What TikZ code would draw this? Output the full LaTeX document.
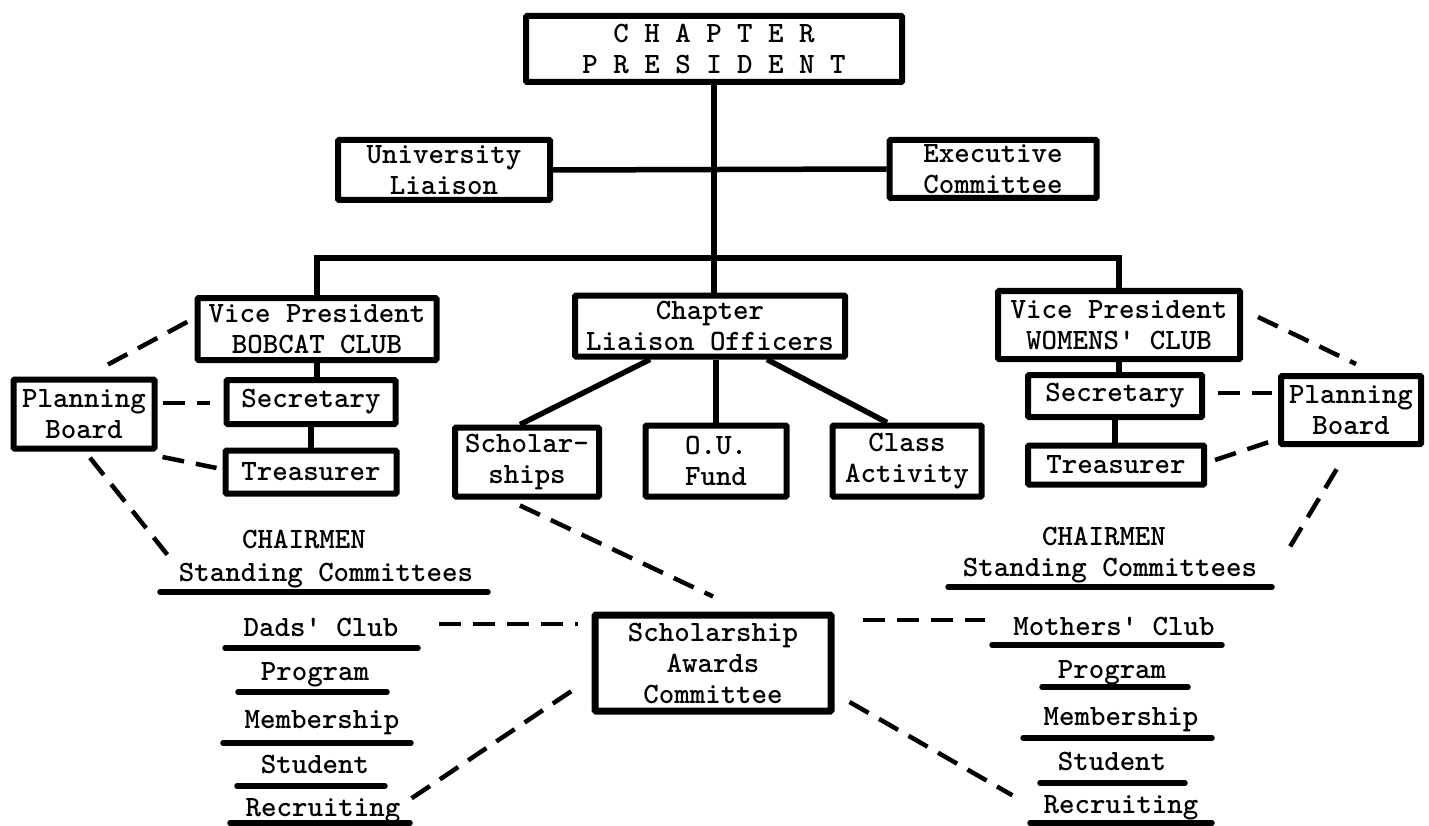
\documentclass[tikz,border=0pt]{standalone}
\usepackage{fontspec}
\newfontfamily\twfam{lmmonolt10-bold.otf}
\newcommand\twfont{\twfam\fontsize{29.5}{31}\selectfont}
\begin{document}
\begin{tikzpicture}[x=1pt,y=-1pt,
  obox/.style={draw, line width=6pt, font=\twfont, align=center, inner sep=0pt, rounded corners=1pt},
  conn/.style={line width=5.5pt},
  dsh/.style={line width=4.5pt, dash pattern=on 22pt off 12pt},
  uline/.style={line width=5.5pt, line cap=round},
  txt/.style={font=\twfont, inner sep=0pt, anchor=base}]
\useasboundingbox (0,0) rectangle (1429,826);
\fill[white] (0,0) rectangle (1429,826);
% boxes
\node[obox, minimum width=376, minimum height=66] (pres) at (714,49) {C H A P T E R\\P R E S I D E N T};
\node[obox, minimum width=212, minimum height=60] (ul) at (444,170) {University\\Liaison};
\node[obox, minimum width=207, minimum height=58] (ec) at (993,169) {Executive\\Committee};
\node[obox, minimum width=239, minimum height=62] (vpb) at (317,329) {Vice President\\BOBCAT CLUB};
\node[obox, minimum width=169, minimum height=44] (secb) at (311,402) {Secretary};
\node[obox, minimum width=171, minimum height=43] (treb) at (311,472) {Treasurer};
\node[obox, minimum width=141, minimum height=69] (pbl) at (84,414) {Planning\\Board};
\node[obox, minimum width=270, minimum height=61] (cl) at (710,326) {Chapter\\Liaison Officers};
\node[obox, minimum width=144, minimum height=69] (sch) at (527,462) {Scholar-\\ships};
\node[obox, minimum width=141, minimum height=71] (ou) at (716,461) {O.U.\\Fund};
\node[obox, minimum width=149, minimum height=71] (ca) at (907,461) {Class\\Activity};
\node[obox, minimum width=242, minimum height=68] (vpw) at (1119,325) {Vice President\\WOMENS' CLUB};
\node[obox, minimum width=174, minimum height=42] (secw) at (1115,396) {Secretary};
\node[obox, minimum width=176, minimum height=39] (trew) at (1116,465) {Treasurer};
\node[obox, minimum width=140, minimum height=68] (pbr) at (1351,410) {Planning\\Board};
\node[obox, line width=7pt, minimum width=236, minimum height=96] (sac) at (713,663) {Scholarship\\Awards\\Committee};
% texts
\node[txt] (chl) at (304,548) {CHAIRMEN};
\node[txt] (stl) at (326,581) {Standing Committees};
\node[txt] (chr) at (1104,545) {CHAIRMEN};
\node[txt] (str) at (1110,576) {Standing Committees};
\node[txt] (dads) at (321,636) {Dads' Club};
\node[txt] (progl) at (315,680) {Program};
\node[txt] (meml) at (322,728) {Membership};
\node[txt] (stul) at (315,773) {Student};
\node[txt] (recl) at (323,816) {Recruiting};
\node[txt] (moth) at (1114,635) {Mothers' Club};
\node[txt] (progr) at (1112,678) {Program};
\node[txt] (memr) at (1121,725) {Membership};
\node[txt] (stur) at (1112,770) {Student};
\node[txt] (recr) at (1121,813) {Recruiting};
% underlines
\draw[uline] (160,592) -- (488,592);
\draw[uline] (948,587) -- (1272,587);
\draw[uline] (225,648) -- (418,648);
\draw[uline] (238,692) -- (387,692);
\draw[uline] (223,743) -- (411,743);
\draw[uline] (237,786) -- (385,786);
\draw[uline] (230,823) -- (410,823);
\draw[uline] (992,645) -- (1222,645);
\draw[uline] (1042,687) -- (1188,687);
\draw[uline] (1023,738) -- (1212,738);
\draw[uline] (1040,783) -- (1185,783);
\draw[uline] (1030,823) -- (1212,823);
% solid connectors
\coordinate (bar) at (714,258);
\draw[conn] (pres.south) -- (pres.south |- cl.north);
\draw[conn] (ul.east) -- (ec.west);
\draw[conn] (vpb.north) |- (bar) -| (vpw.north);
\draw[conn] (vpb.south) -- (vpb.south |- secb.north);
\draw[conn] (secb.south) -- (secb.south |- treb.north);
\draw[conn] (vpw.south) -- (vpw.south |- secw.north);
\draw[conn] (secw.south) -- (secw.south |- trew.north);
\draw[conn] ([xshift=-60pt]cl.south) -- ([xshift=-7pt]sch.north);
\draw[conn] (cl.south -| ou.north) -- (ou.north);
\draw[conn] ([xshift=57pt]cl.south) -- ([xshift=-20pt]ca.north);
% dashed connectors
\coordinate (pblend) at (170,558);
\coordinate (pbrend) at (1285,555);
\draw[dsh] ([xshift=24pt,yshift=12pt]pbl.north) -- ([yshift=11pt]vpb.west);
\draw[dsh, shorten <=5pt, shorten >=14pt] ([yshift=11pt]pbl.east) -- ([yshift=11pt]pbl.east -| secb.west);
\draw[dsh] ([xshift=5pt,yshift=-43pt]pbl.east) -- ([xshift=-6pt,yshift=4pt]treb.west);
\draw[dsh, shorten <=8pt] ([xshift=1pt]pbl.south) -- (pblend);
\draw[dsh] ([xshift=15pt,yshift=8pt]vpw.east) -- ([xshift=5pt,yshift=9pt]pbr.north);
\draw[dsh, shorten <=13pt, shorten >=6pt] ([yshift=17pt]pbr.west -| secw.east) -- ([yshift=17pt]pbr.west);
\draw[dsh] ([xshift=8pt,yshift=5pt]trew.east) -- ([xshift=-9pt,yshift=-32pt]pbr.west);
\draw[dsh, shorten <=26pt] ([xshift=-1pt]pbr.south) -- (pbrend);
\draw[dsh] ([xshift=-7pt,yshift=-6pt]sch.south) -- ([yshift=15pt]sac.north);
\draw[dsh, shorten <=40pt, shorten >=14pt] ([yshift=3pt]dads.east) -- ([yshift=3pt]dads.east -| sac.west);
\draw[dsh, shorten <=28pt, shorten >=28pt] ([yshift=6pt]moth.west -| sac.east) -- ([yshift=6pt]moth.west);
\draw[dsh] ([xshift=11pt,yshift=12pt]recl.east) -- ([xshift=-11pt,yshift=-22pt]sac.west);
\draw[dsh] ([xshift=15pt,yshift=-39pt]sac.east) -- ([xshift=-31pt,yshift=12pt]recr.west);
\end{tikzpicture}
\end{document}
